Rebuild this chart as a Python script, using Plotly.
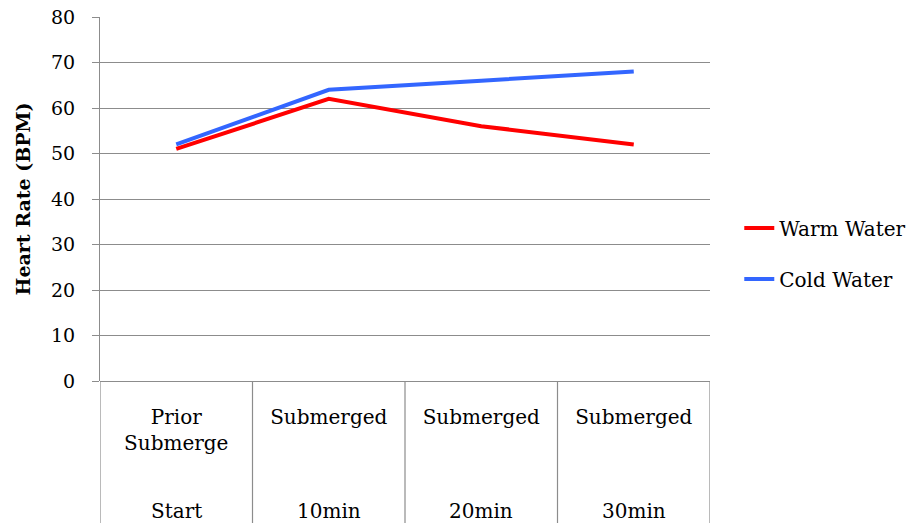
import plotly.graph_objects as go

categories = ["Prior<br>Submerge", "Submerged", "Submerged", "Submerged"]
sub_labels = ["Start", "10min", "20min", "30min"]
warm_water = [51, 62, 56, 52]
cold_water = [52, 64, 66, 68]
y_ticks = [0, 10, 20, 30, 40, 50, 60, 70, 80]

FONT = "DejaVu Serif"
GRID = "#8c8c8c"
xpos = list(range(len(categories)))

fig = go.Figure()
fig.add_trace(go.Scatter(x=xpos, y=warm_water, mode="lines", name="Warm Water",
                         line=dict(color="#ff0000", width=4), legendgroup="a"))
fig.add_trace(go.Scatter(x=xpos, y=cold_water, mode="lines", name="Cold Water",
                         line=dict(color="#3366ff", width=4), legendgroup="b"))

# category divider lines extending below the axis
for b in [i - 0.5 for i in range(len(categories) + 1)]:
    fig.add_shape(type="line", xref="x", yref="paper", x0=b, x1=b, y0=0, y1=-0.45,
                  line=dict(color=GRID, width=1.2), layer="below")

# second row of category labels
for xp, lab in zip(xpos, sub_labels):
    fig.add_annotation(x=xp, y=-0.358, xref="x", yref="paper", text=lab, showarrow=False,
                       xanchor="center", yanchor="middle",
                       font=dict(family=FONT, size=20, color="#000000"))

fig.update_layout(
    width=913, height=523,
    margin=dict(l=100, r=203, t=17, b=142, autoexpand=False),
    paper_bgcolor="white", plot_bgcolor="white",
    font=dict(family=FONT, size=20, color="#000000"),
    showlegend=True,
    legend=dict(x=1.048, y=0.35, xanchor="left", yanchor="middle",
                traceorder="grouped", tracegroupgap=22,
                font=dict(family=FONT, size=20, color="#000000"),
                bgcolor="rgba(0,0,0,0)"),
    xaxis=dict(range=[-0.5, 3.5], tickvals=xpos, ticktext=categories,
               showgrid=False, zeroline=False, showline=False, ticks="",
               automargin=False, ticklabeloverflow="allow",
               ticklabelstandoff=22, tickfont=dict(family=FONT, size=20)),
    yaxis=dict(range=[0, 80], tickvals=y_ticks, showgrid=True, gridcolor=GRID, gridwidth=1.2,
               zeroline=True, zerolinecolor=GRID, zerolinewidth=1.2,
               showline=True, linecolor=GRID, linewidth=1.2,
               ticks="outside", ticklen=7, tickcolor=GRID, tickwidth=1.2,
               automargin=False, ticklabelstandoff=13, ticklabeloverflow="allow",
               tickfont=dict(family=FONT, size=19),
               title=dict(text="<b>Heart Rate (BPM)</b>", font=dict(family=FONT, size=19), standoff=15)),
)

fig.write_html("out.html", config={"displayModeBar": False},
               post_script="document.body.style.margin='0';")
